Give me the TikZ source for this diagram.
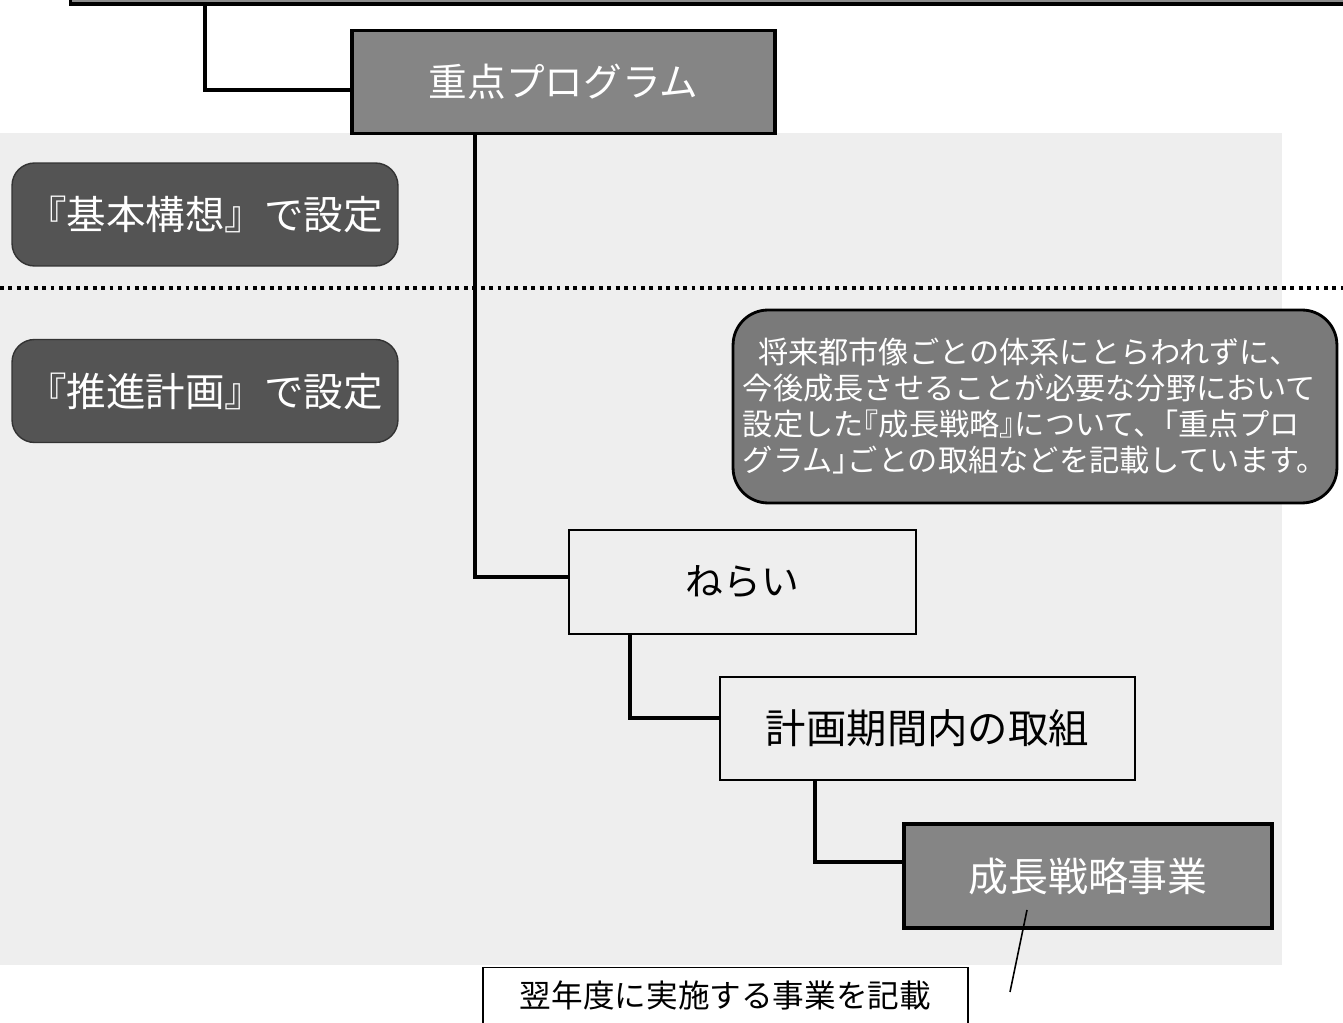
\documentclass[tikz,border=0pt]{standalone}
\usepackage{fontspec}
\newfontfamily\jp{Noto Sans CJK JP}
\newfontfamily\jph[RawFeature=+halt]{Noto Sans CJK JP}
\usetikzlibrary{calc}
\definecolor{bgspeck}{gray}{0.935}
\definecolor{progfill}{gray}{0.52}
\definecolor{setfill}{gray}{0.33}
\definecolor{notefill}{gray}{0.48}
\definecolor{barfill}{gray}{0.55}
\tikzset{
  conn/.style={draw=black, line width=2.6pt, line join=miter},
  graybox/.style={draw=black, line width=2.2pt, fill=progfill, text=white, inner sep=0pt, font=\jp},
  setbox/.style={draw=black!80, line width=0.8pt, fill=setfill, text=white, rounded corners=0.45cm, inner sep=0pt,
     minimum width=7.72cm, minimum height=2.06cm, font=\jp\fontsize{22.5}{26}\selectfont},
  plainbox/.style={draw=black, line width=1.3pt, inner sep=0pt, text=black, font=\jp},
}
\begin{document}
\begin{tikzpicture}[x=0.02cm, y=-0.02cm]
\path[use as bounding box, clip] (0,0) rectangle (1343,1023);
\fill[white] (0,0) rectangle (1343,1023);
\fill[bgspeck] (0,133) rectangle (1282,965);

% top bar
\node[draw=black, line width=2pt, fill=barfill, minimum width=25.9cm, minimum height=0.5cm, inner sep=0pt] (top) at (718,-8.5) {};

% dotted separator
\draw[line width=2.2pt, dash pattern=on 2.2pt off 2.6pt] (0,288) -- (1343,288);

% nodes
\node[graybox, minimum width=8.46cm, minimum height=2.06cm, font=\jp\fontsize{22}{26}\selectfont] (prog) at (563.5,82) {重点プログラム};
\node[setbox] (kihon) at (205,214.5) {『基本構想』で設定};
\node[setbox] (suishin) at (205,391) {『推進計画』で設定};
\node[draw=black, line width=1.6pt, fill=notefill, text=white, rounded corners=0.7cm, inner sep=0pt,
      minimum width=12.08cm, minimum height=3.86cm, align=left,
      font=\jp\fontsize{17.2}{20.5}\selectfont] (note) at (1035,406.5)
  {\hspace*{0.5em}将来都市像ごとの体系にとらわれずに、\\
   今後成長させることが必要な分野において\\
   設定した{\jph 『}成長戦略{\jph 』}について、{\jph 「}重点プロ\\
   グラム{\jph 」}ごとの取組などを記載しています。};
\node[plainbox, minimum width=6.94cm, minimum height=2.08cm, font=\jp\fontsize{21.5}{25}\selectfont] (nerai) at (742.5,582) {ねらい};
\node[plainbox, minimum width=8.3cm, minimum height=2.06cm, font=\jp\fontsize{23}{27}\selectfont] (keikaku) at (927.5,728.5) {計画期間内の取組};
\node[graybox, minimum width=7.36cm, minimum height=2.08cm, font=\jp\fontsize{22.7}{26}\selectfont] (seicho) at (1088,876) {成長戦略事業};
\node[draw=black, line width=1pt, fill=white, inner sep=0pt, minimum width=9.7cm, minimum height=1.3cm,
      font=\jp\fontsize{18}{21}\selectfont, text=black] (yokunen) at (725.5,1000) {\raisebox{0.25cm}{翌年度に実施する事業を記載}};

% connectors
\coordinate (k1) at (205,90);
\coordinate (k2) at (475,577);
\coordinate (k3) at (630,718);
\coordinate (k4) at (815,862);
\draw[conn] (top.south -| k1) |- (prog.west |- k1);
\draw[conn] (prog.south -| k2) |- (nerai.west |- k2);
\draw[conn] (nerai.south -| k3) |- (keikaku.west |- k3);
\draw[conn] (keikaku.south -| k4) |- (seicho.west |- k4);

% callout line
\coordinate (cs) at (1027,910);
\coordinate (ce) at (1010,992);
\draw[line width=0.9pt] (cs) -- (ce);
\end{tikzpicture}
\end{document}
